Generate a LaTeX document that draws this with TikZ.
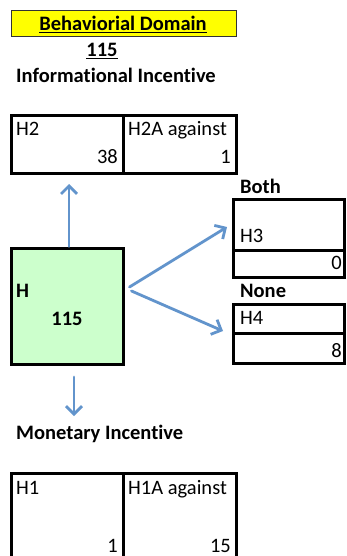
\documentclass[tikz,border=0pt]{standalone}
\usepackage{fontspec}
\setmainfont{Carlito}[Ligatures=NoCommon]
\usetikzlibrary{arrows.meta}
\definecolor{arrowblue}{RGB}{98,148,204}
\definecolor{hgreen}{RGB}{204,255,204}
\definecolor{titleyellow}{RGB}{255,255,0}
\tikzset{
  cell/.style={draw=black, line width=3pt},
  txt/.style={inner sep=0pt, font=\fontsize{20.5}{23}\selectfont},
  btxt/.style={txt, font=\fontsize{20.5}{23}\selectfont\bfseries},
  arr/.style={draw=arrowblue, line width=2.8pt, line cap=round,
    -{Straight Barb[length=8pt,width=16pt,line width=2.8pt]}}
}
\begin{document}
\begin{tikzpicture}[x=1pt,y=-1pt]
\clip (0,0) rectangle (346,556);
\fill[white] (0,0) rectangle (346,556);
% title
\draw[fill=titleyellow, draw=black!80, line width=1pt] (11,11) rectangle (236,37);
\node[btxt, anchor=base] (title) at (123,31) {\underline{Behaviorial Domain}};
\node[btxt, anchor=base] (total) at (102,57) {\underline{115}};
\node[btxt, anchor=base west] (info) at (16,83) {Informational Incentive};
% H2 row
\draw[cell] (11,116) rectangle (123,173);
\draw[cell] (123,116) rectangle (236,173);
\node[txt, anchor=base west] (h2) at (16,136) {H2};
\node[txt, anchor=base east] (h2v) at (118,164) {38};
\node[txt, anchor=base west] (h2a) at (128,136) {H2A against};
\node[txt, anchor=base east] (h2av) at (231,164) {1};
% H box
\node[cell, fill=hgreen, minimum width=112pt, minimum height=116pt, inner sep=0pt] (h) at (67,306) {};
\node[btxt, anchor=base west] (hl) at (16,297) {H};
\node[btxt, anchor=base] (hv) at (67,325) {115};
% Both / H3
\node[btxt, anchor=base west] (both) at (240,193) {Both};
\draw[cell] (233.5,199) rectangle (344,250);
\draw[cell] (233.5,250) rectangle (344,277);
\node[txt, anchor=base west] (h3) at (240,242) {H3};
\node[txt, anchor=base east] (h3v) at (342,269) {0};
% None / H4
\node[btxt, anchor=base west] (none) at (240,297) {None};
\draw[cell] (233.5,304) rectangle (344,333);
\draw[cell] (233.5,333) rectangle (344,363);
\node[txt, anchor=base west] (h4) at (240,324) {H4};
\node[txt, anchor=base east] (h4v) at (342,357) {8};
% Monetary
\node[btxt, anchor=base west] (mon) at (16,439) {Monetary Incentive};
\draw[cell] (11,473) rectangle (123,570);
\draw[cell] (123,473) rectangle (236,570);
\node[txt, anchor=base west] (h1) at (16,494) {H1};
\node[txt, anchor=base east] (h1v) at (118,552) {1};
\node[txt, anchor=base west] (h1a) at (128,494) {H1A against};
\node[txt, anchor=base east] (h1av) at (231,552) {15};
% arrows
\coordinate (upend) at (69,184);
\coordinate (bothend) at (227,227);
\coordinate (noneend) at (223,331);
\coordinate (downstart) at (74,377);
\coordinate (downend) at (74,416);
\draw[arr] (h.north -| upend) -- (upend);
\draw[arr] ([xshift=5pt,yshift=19pt]h.east) -- (bothend);
\draw[arr] ([xshift=7pt,yshift=15pt]h.east) -- (noneend);
\draw[arr] (downstart) -- (downend);
\end{tikzpicture}
\end{document}
